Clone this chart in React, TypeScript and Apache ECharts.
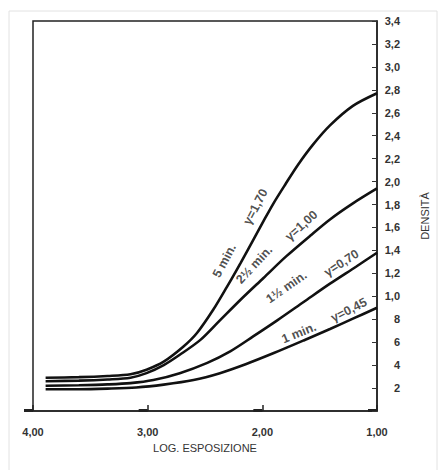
import React, { useEffect, useRef } from "react";
import * as echarts from "echarts";

const xTicks = [4, 3, 2, 1];
const yMax = 3.4;

const curve5min: number[][] = [
  [3.89, 0.29], [3.6, 0.295], [3.35, 0.305], [3.15, 0.32], [3.01, 0.36], [2.86, 0.43], [2.69, 0.56],
  [2.57, 0.68], [2.43, 0.88], [2.31, 1.08], [2.19, 1.29], [2.08, 1.49], [1.99, 1.655],
  [1.9, 1.815], [1.8, 1.975], [1.69, 2.145], [1.56, 2.32], [1.41, 2.49], [1.21, 2.66], [1.0, 2.77],
];
const curve2half: number[][] = [
  [3.89, 0.26], [3.6, 0.265], [3.35, 0.275], [3.15, 0.29], [3.01, 0.33], [2.86, 0.4], [2.72, 0.49],
  [2.54, 0.62], [2.37, 0.79], [2.19, 0.97], [1.99, 1.16], [1.79, 1.35], [1.58, 1.53],
  [1.41, 1.67], [1.21, 1.81], [1.0, 1.94],
];
const curve1half: number[][] = [
  [3.89, 0.22], [3.6, 0.225], [3.35, 0.232], [3.15, 0.243], [2.95, 0.27], [2.72, 0.33], [2.48, 0.42],
  [2.28, 0.52], [2.08, 0.65], [1.87, 0.79], [1.64, 0.95], [1.41, 1.11], [1.18, 1.26], [1.0, 1.38],
];
const curve1min: number[][] = [
  [3.89, 0.19], [3.6, 0.19], [3.35, 0.195], [3.1, 0.205], [2.86, 0.23], [2.6, 0.27], [2.37, 0.33],
  [2.14, 0.41], [1.9, 0.505], [1.64, 0.615], [1.41, 0.715], [1.21, 0.805], [1.0, 0.9],
];

const curveLabels: string[] = ["5 min.", "γ=1,70", "2½ min.", "γ=1,00", "1½ min.", "γ=0,70", "1 min.", "γ=0,45"];
const curveLabelAt: number[][] = [
  [2.33, 1.31], [2.06, 1.78], [2.07, 1.275], [1.66, 1.615], [1.79, 1.08], [1.31, 1.29], [1.68, 0.68], [1.245, 0.88],
];
const curveLabelAngle: number[] = [62, 62, 47, 42, 35, 33, 22, 27];

export default function App() {
  const ref = useRef<HTMLDivElement>(null);
  useEffect(() => {
    document.body.style.margin = "0";
    if (!ref.current) return;
    const chart = echarts.init(ref.current, undefined, { renderer: "svg" });
    const lineSeries = (data: number[][]) => ({
      type: "line",
      data,
      smooth: 0.3,
      showSymbol: false,
      symbol: "none",
      lineStyle: { color: "#111", width: 2.6 },
      silent: true,
    });
    const font = "'Liberation Sans', Arial, sans-serif";
    chart.setOption({
      animation: false,
      backgroundColor: "#fff",
      grid: { left: 33, right: 66, top: 21, bottom: 59, show: true, borderColor: "#222", borderWidth: 1.5 },
      xAxis: {
        type: "value",
        min: 1,
        max: 4,
        interval: 1,
        inverse: true,
        splitLine: { show: false },
        axisLine: { lineStyle: { color: "#222", width: 1.5 } },
        axisTick: { inside: true, length: 6, lineStyle: { color: "#222", width: 1.5 } },
        axisLabel: {
          color: "#333",
          fontSize: 11,
          fontWeight: "bold",
          fontFamily: font,
          margin: 15,
          formatter: (v: number) => v.toFixed(2).replace(".", ","),
        },
        name: "LOG. ESPOSIZIONE",
        nameLocation: "middle",
        nameGap: 31,
        nameTextStyle: { color: "#333", fontSize: 11, fontFamily: font },
      },
      yAxis: {
        type: "value",
        position: "right",
        min: 0,
        max: yMax,
        interval: 0.2,
        splitLine: { show: false },
        axisLine: { show: true, lineStyle: { color: "#222", width: 1.5 } },
        axisTick: { inside: true, length: 5, lineStyle: { color: "#333", width: 1 } },
        axisLabel: {
          color: "#333",
          fontSize: 11,
          fontWeight: "bold",
          fontFamily: font,
          align: "right",
          margin: 23,
          padding: [0, 0, 6, 0],
          formatter: (v: number) => {
            if (v < 0.01) return "";
            if (v < 0.99) return String(Math.round(v * 10));
            return v.toFixed(1).replace(".", ",");
          },
        },
        name: "DENSITÀ",
        nameLocation: "middle",
        nameRotate: 90,
        nameGap: 42,
        nameTextStyle: { color: "#333", fontSize: 11, fontFamily: font },
      },
      series: [
        lineSeries(curve5min),
        lineSeries(curve2half),
        lineSeries(curve1half),
        lineSeries(curve1min),
        {
          type: "scatter",
          symbolSize: 0,
          silent: true,
          data: curveLabels.map((t, i) => ({
            value: curveLabelAt[i],
            name: t,
            label: { rotate: curveLabelAngle[i] },
          })),
          label: {
            show: true,
            position: "inside",
            formatter: (p: any) => p.name,
            color: "#222",
            fontSize: 12.5,
            fontWeight: "bold",
            fontFamily: font,
          },
        },
      ],
    });
    const y0 = chart.convertToPixel({ yAxisIndex: 0 }, 0) as number;
    const marks = xTicks.map((v) => {
      const px = chart.convertToPixel({ xAxisIndex: 0 }, v) as number;
      return { type: "rect", shape: { x: px - 9, y: y0 - 2, width: 9, height: 3 }, style: { fill: "#222" }, silent: true };
    });
    chart.setOption({
      graphic: [
        { type: "rect", shape: { x: 9, y: 11, width: 428, height: 470 }, style: { fill: "none", stroke: "#e2e2e2", lineWidth: 1 }, silent: true },
        ...marks,
      ],
    });
    return () => chart.dispose();
  }, []);
  return <div ref={ref} style={{ width: 443, height: 470 }} />;
}
